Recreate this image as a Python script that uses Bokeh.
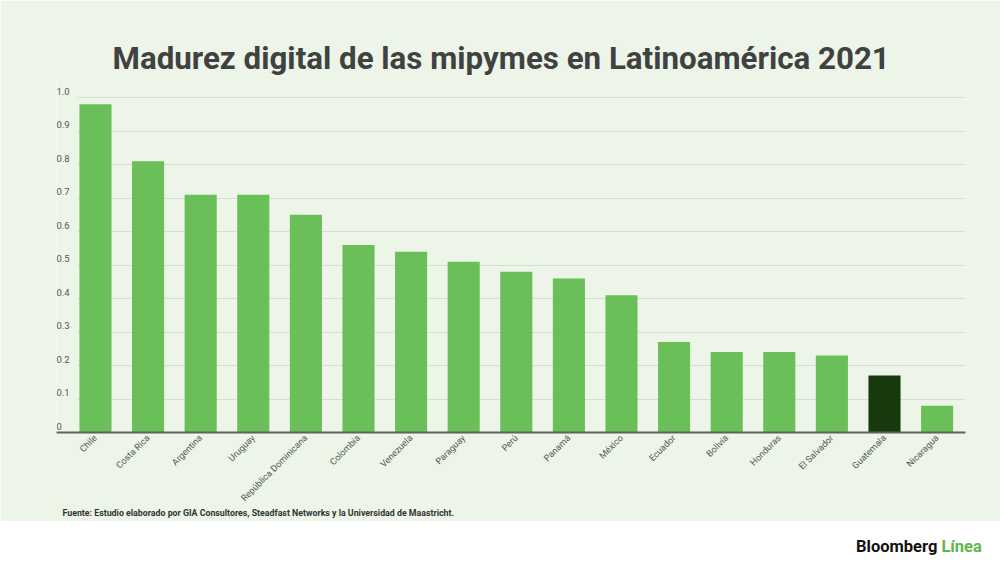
"""Madurez digital de las mipymes en Latinoamérica 2021."""
import math
import typing as typ

import bokeh.models as bm
import bokeh.plotting as bp
from bokeh.core.properties import value
from bokeh.embed import file_html
from bokeh.layouts import column
from bokeh.resources import INLINE

paises: typ.List[str] = [
    "Chile", "Costa Rica", "Argentina", "Uruguay", "República Dominicana",
    "Colombia", "Venezuela", "Paraguay", "Perú", "Panamá", "México",
    "Ecuador", "Bolivia", "Honduras", "El Salvador", "Guatemala", "Nicaragua",
]
madurez: typ.List[float] = [
    0.98, 0.81, 0.71, 0.71, 0.65, 0.56, 0.54, 0.51, 0.48, 0.46, 0.41,
    0.27, 0.24, 0.24, 0.23, 0.17, 0.08,
]
destacado: str = "Guatemala"
y_ticks: typ.List[float] = [0.0, 0.1, 0.2, 0.3, 0.4, 0.5, 0.6, 0.7, 0.8, 0.9, 1.0]
y_tick_labels: typ.List[str] = ["0", "0.1", "0.2", "0.3", "0.4", "0.5", "0.6", "0.7", "0.8", "0.9", "1.0"]

TITULO = "Madurez digital de las mipymes en Latinoamérica 2021"
FUENTE = "Fuente: Estudio elaborado por GIA Consultores, Steadfast Networks y la Universidad de Maastricht."

FONDO = "#edf5e9"
VERDE = "#6abf59"
OSCURO = "#18380e"
FONT = "Roboto"


def make_chart() -> bp.figure:
    """棒グラフ."""
    x_pos = list(range(len(paises)))
    colores = [OSCURO if p == destacado else VERDE for p in paises]
    source = bp.ColumnDataSource(dict(x=x_pos, pais=paises, madurez=madurez, color=colores))

    x_start, x_end = -0.741, 16.54
    fig = bp.figure(
        width=1000, height=521,
        x_range=bm.Range1d(x_start, x_end), y_range=bm.Range1d(0, 1.066),
        output_backend="svg", toolbar_location=None,
        min_border_left=56, min_border_right=35, min_border_top=75, min_border_bottom=89,
    )
    fig.background_fill_color = FONDO
    fig.border_fill_color = FONDO
    fig.outline_line_color = None

    fig.vbar(x="x", top="madurez", width=0.61, fill_color="color", line_color=None, source=source)

    fig.yaxis.visible = False
    fig.yaxis.ticker = bm.FixedTicker(ticks=y_ticks)
    fig.xgrid.visible = False
    fig.ygrid.grid_line_color = "#d5dfd1"
    fig.ygrid.grid_line_width = 1
    fig.ygrid.cross_bounds = (-0.342, x_end)

    fig.xaxis.ticker = bm.FixedTicker(ticks=x_pos)
    fig.xaxis.major_label_overrides = {i: p for i, p in enumerate(paises)}
    fig.xaxis.major_label_orientation = math.pi / 4
    fig.xaxis.major_label_text_font = FONT
    fig.xaxis.major_label_text_font_size = "9px"
    fig.xaxis.major_label_text_color = "#555555"
    fig.xaxis.major_label_standoff = 4
    fig.xaxis.major_tick_out = 0
    fig.xaxis.minor_tick_out = 0
    fig.xaxis.major_tick_line_color = None
    fig.xaxis.minor_tick_line_color = None
    fig.xaxis.axis_line_color = "#5f625e"
    fig.xaxis.axis_line_width = 2

    tick_src = bp.ColumnDataSource(dict(y=y_ticks, label=y_tick_labels, x=[x_start] * len(y_ticks)))
    fig.add_layout(bm.LabelSet(
        x="x", y="y", text="label", source=tick_src, y_offset=3,
        text_font=value(FONT), text_font_size="9.5px", text_color="#555555",
        text_align="left", text_baseline="bottom",
    ))

    fig.add_layout(bm.Title(
        text=TITULO, align="left", offset=56, standoff=-2,
        text_font=FONT, text_font_style="bold", text_font_size="31.3px", text_color="#3f4240",
    ), "above")
    fig.add_layout(bm.Title(
        text=FUENTE, align="left", offset=6, standoff=-7,
        text_font=FONT, text_font_style="bold", text_font_size="8.8px", text_color="#333333",
    ), "below")
    return fig


def make_footer() -> bm.Div:
    """ロゴ."""
    html = (
        '<div style="padding-left:851px; padding-top:12px; white-space:nowrap; '
        f'font-family:{FONT}; font-weight:bold; font-size:16.5px; line-height:17px">'
        '<span style="color:#111111">Bloomberg</span> '
        '<span style="color:#5cb84a">Línea</span></div>'
    )
    return bm.Div(text=html, width=1000, height=41, styles={"background-color": "white"})


def main() -> None:
    """メイン."""
    layout = column(make_chart(), make_footer(), spacing=0)
    with open("out.html", "w") as f:
        f.write(file_html(layout, INLINE))


if __name__ == "__main__":
    main()
